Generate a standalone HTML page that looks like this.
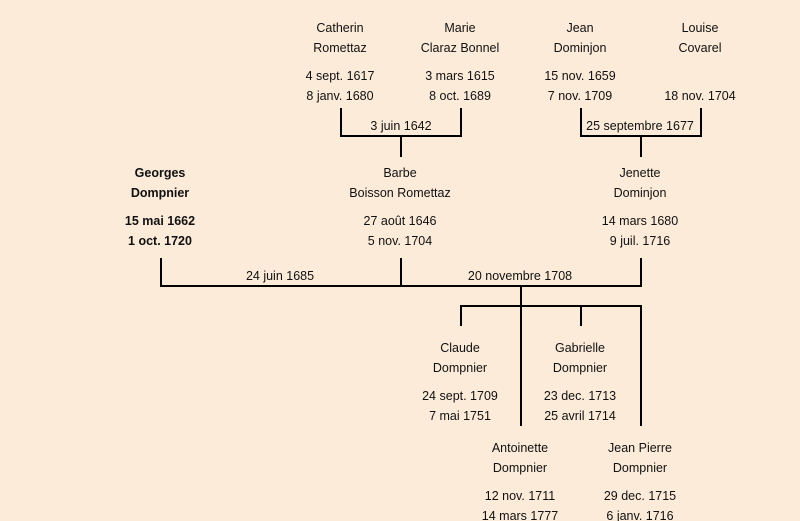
<!DOCTYPE html>
<html><head><meta charset="utf-8"><style>
body{margin:0;background:#fcebd9;}
#c{position:relative;width:800px;height:521px;overflow:hidden;background:#fcebd9;font-family:"Liberation Sans",sans-serif;font-size:12.5px;color:#111;}
.t{position:absolute;width:160px;text-align:center;line-height:20px;transform:translate(-80px,-9px);white-space:nowrap}
.b{font-weight:bold}
.l{position:absolute;background:#000}
</style></head><body><div id="c">
<div class="t" style="left:340px;top:27px">Catherin</div><div class="t" style="left:340px;top:47px">Romettaz</div>
<div class="t" style="left:340px;top:75px">4 sept. 1617</div><div class="t" style="left:340px;top:95px">8 janv. 1680</div>
<div class="t" style="left:460px;top:27px">Marie</div><div class="t" style="left:460px;top:47px">Claraz Bonnel</div>
<div class="t" style="left:460px;top:75px">3 mars 1615</div><div class="t" style="left:460px;top:95px">8 oct. 1689</div>
<div class="t" style="left:580px;top:27px">Jean</div><div class="t" style="left:580px;top:47px">Dominjon</div>
<div class="t" style="left:580px;top:75px">15 nov. 1659</div><div class="t" style="left:580px;top:95px">7 nov. 1709</div>
<div class="t" style="left:700px;top:27px">Louise</div><div class="t" style="left:700px;top:47px">Covarel</div>
<div class="t" style="left:700px;top:95px">18 nov. 1704</div>
<div class="t" style="left:401px;top:125px">3 juin 1642</div>
<div class="t" style="left:640px;top:125px">25 septembre 1677</div>
<div class="t b" style="left:160px;top:172px">Georges</div><div class="t b" style="left:160px;top:192px">Dompnier</div>
<div class="t b" style="left:160px;top:220px">15 mai 1662</div><div class="t b" style="left:160px;top:240px">1 oct. 1720</div>
<div class="t" style="left:400px;top:172px">Barbe</div><div class="t" style="left:400px;top:192px">Boisson Romettaz</div>
<div class="t" style="left:400px;top:220px">27 août 1646</div><div class="t" style="left:400px;top:240px">5 nov. 1704</div>
<div class="t" style="left:640px;top:172px">Jenette</div><div class="t" style="left:640px;top:192px">Dominjon</div>
<div class="t" style="left:640px;top:220px">14 mars 1680</div><div class="t" style="left:640px;top:240px">9 juil. 1716</div>
<div class="t" style="left:280px;top:275px">24 juin 1685</div>
<div class="t" style="left:520px;top:275px">20 novembre 1708</div>
<div class="t" style="left:460px;top:347px">Claude</div><div class="t" style="left:460px;top:367px">Dompnier</div>
<div class="t" style="left:460px;top:395px">24 sept. 1709</div><div class="t" style="left:460px;top:415px">7 mai 1751</div>
<div class="t" style="left:580px;top:347px">Gabrielle</div><div class="t" style="left:580px;top:367px">Dompnier</div>
<div class="t" style="left:580px;top:395px">23 dec. 1713</div><div class="t" style="left:580px;top:415px">25 avril 1714</div>
<div class="t" style="left:520px;top:447px">Antoinette</div><div class="t" style="left:520px;top:467px">Dompnier</div>
<div class="t" style="left:520px;top:495px">12 nov. 1711</div><div class="t" style="left:520px;top:515px">14 mars 1777</div>
<div class="t" style="left:640px;top:447px">Jean Pierre</div><div class="t" style="left:640px;top:467px">Dompnier</div>
<div class="t" style="left:640px;top:495px">29 dec. 1715</div><div class="t" style="left:640px;top:515px">6 janv. 1716</div>

<div class="l" style="left:340px;top:108px;width:2px;height:29px"></div>
<div class="l" style="left:460px;top:108px;width:2px;height:29px"></div>
<div class="l" style="left:340px;top:135px;width:122px;height:2px"></div>
<div class="l" style="left:400px;top:135px;width:2px;height:22px"></div>
<div class="l" style="left:580px;top:108px;width:2px;height:29px"></div>
<div class="l" style="left:700px;top:108px;width:2px;height:29px"></div>
<div class="l" style="left:580px;top:135px;width:122px;height:2px"></div>
<div class="l" style="left:640px;top:135px;width:2px;height:22px"></div>

<div class="l" style="left:160px;top:258px;width:2px;height:29px"></div>
<div class="l" style="left:400px;top:258px;width:2px;height:29px"></div>
<div class="l" style="left:640px;top:258px;width:2px;height:29px"></div>
<div class="l" style="left:160px;top:285px;width:482px;height:2px"></div>
<div class="l" style="left:520px;top:285px;width:2px;height:141px"></div>
<div class="l" style="left:460px;top:305px;width:182px;height:2px"></div>
<div class="l" style="left:460px;top:305px;width:2px;height:21px"></div>
<div class="l" style="left:580px;top:305px;width:2px;height:21px"></div>
<div class="l" style="left:640px;top:305px;width:2px;height:121px"></div>
</div></body></html>
